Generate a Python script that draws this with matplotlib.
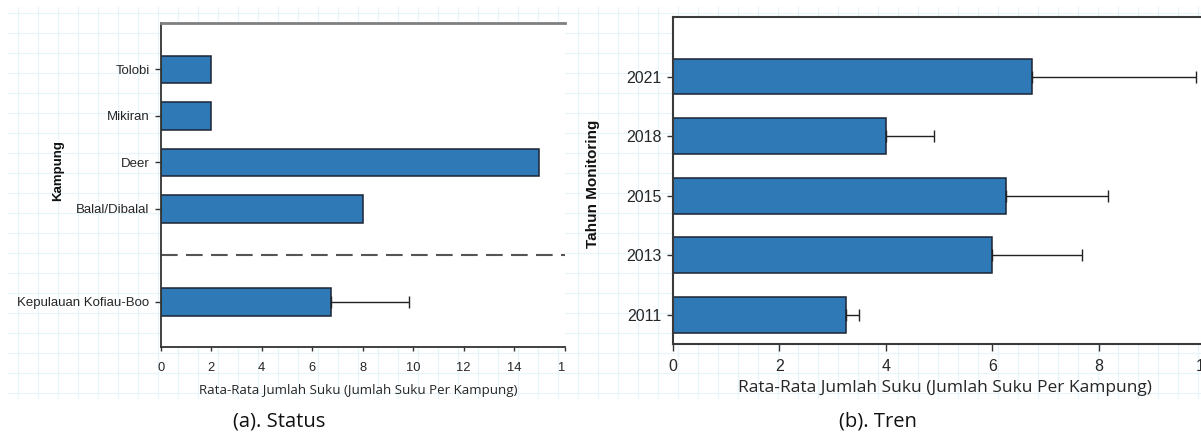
import matplotlib
matplotlib.use("Agg")
import matplotlib.pyplot as plt
import numpy as np
from matplotlib.transforms import Bbox, TransformedBbox

# ---------------- data ----------------
status_labels = ["Kepulauan Kofiau-Boo", "Balal/Dibalal", "Deer", "Mikiran", "Tolobi"]
status_values = [6.75, 8.0, 15.0, 2.0, 2.0]
status_err = [3.1, 0.0, 0.0, 0.0, 0.0]
status_xticks = [0, 2, 4, 6, 8, 10, 12, 14, 16]

trend_years = ["2011", "2013", "2015", "2018", "2021"]
trend_values = [3.25, 6.0, 6.25, 4.0, 6.75]
trend_err = [0.25, 1.68, 1.93, 0.91, 3.09]
trend_xticks = [0, 2, 4, 6, 8, 10]

xlabel_text = "Rata-Rata Jumlah Suku (Jumlah Suku Per Kampung)"
caption_a = "(a). Status"
caption_b = "(b). Tren"

# ---------------- style ----------------
W, H = 1201, 437
BAR = "#2f79b6"
EDGE = "#1c2433"
TXT = "#262626"
GRID = "#e6f5f8"

fig = plt.figure(figsize=(W / 100, H / 100), dpi=100)
fig.patch.set_facecolor("white")

# graph-paper background
bg = fig.add_axes([0, 0, 1, 1], zorder=-10)
bg.set_xlim(0, W)
bg.set_ylim(H, 0)
bg.axis("off")
for gx in np.arange(18, W, 20):
    bg.plot([gx, gx], [7, 398], color=GRID, lw=0.9)
for gy in np.arange(13, 400, 20):
    bg.plot([8, W], [gy, gy], color=GRID, lw=0.9)


def px_axes(x0, x1, y_top, y_bot):
    return [x0 / W, (H - y_bot) / H, (x1 - x0) / W, (y_bot - y_top) / H]


# ---------------- (a) Status ----------------
ax1 = fig.add_axes(px_axes(160.7, 564.7, 23, 347))
ax1.set_facecolor("white")
# positions: first category, then an empty separator slot, then the rest
pos1 = np.array([1] + list(np.arange(3, 3 + len(status_labels) - 1)))
ax1.barh(pos1, status_values, height=0.6, color=BAR, edgecolor=EDGE, linewidth=1.1, zorder=2)
err1 = np.array(status_err)
m1 = err1 > 0
ax1.errorbar(np.array(status_values)[m1], pos1[m1],
             xerr=[np.zeros(m1.sum()), err1[m1]], fmt="none",
             ecolor="#222222", elinewidth=1.0, capsize=4, capthick=1.0, zorder=3)
ax1.axhline(2, color="#555555", lw=1.5, dashes=(8, 4), zorder=1)
ax1.set_xlim(0, 16)
ax1.set_ylim(0.03, 7.0)
ax1.set_yticks(pos1)
ax1.set_yticklabels(status_labels, fontsize=9.5, color=TXT, family="Liberation Sans")
ax1.set_xticks(status_xticks)
ax1.set_xticklabels([str(v) for v in status_xticks], fontsize=9.3, color=TXT, family="Liberation Sans")
ax1.tick_params(axis="y", length=4, width=1, color="#333333", pad=4)
ax1.tick_params(axis="x", length=3, width=1, color="#333333", pad=7.5)
ax1.spines["right"].set_visible(False)
ax1.spines["left"].set_color("#333333")
ax1.spines["bottom"].set_color("#333333")
ax1.spines["left"].set_linewidth(1.3)
ax1.spines["bottom"].set_linewidth(1.3)
ax1.spines["top"].set_color("#7f7f7f")
ax1.spines["top"].set_linewidth(2.0)
ax1.set_xlabel(xlabel_text, fontsize=9.6, color=TXT, family="Open Sans", va="center")
ax1.xaxis.set_label_coords(0.49, -0.133)
ax1.set_ylabel("Kampung", fontsize=9.5, fontweight="bold", color="#111111",
               family="Liberation Sans", va="center")
ax1.yaxis.set_label_coords(-0.254, 0.546)

# ---------------- (b) Tren ----------------
ax2 = fig.add_axes(px_axes(673, 1205, 17, 344))
ax2.set_facecolor("white")
pos2 = np.arange(1, len(trend_years) + 1)
ax2.barh(pos2, trend_values, height=0.6, color=BAR, edgecolor=EDGE, linewidth=1.1, zorder=2)
ax2.errorbar(trend_values, pos2, xerr=[np.zeros(len(trend_err)), trend_err], fmt="none",
             ecolor="#222222", elinewidth=1.0, capsize=4, capthick=1.0, zorder=3)
ax2.set_xlim(0, 10)
ax2.set_ylim(0.51, 6.0)
ax2.set_yticks(pos2)
ax2.set_yticklabels(trend_years, fontsize=11.5, color=TXT, family="Liberation Sans")
ax2.set_xticks(trend_xticks)
ax2.set_xticklabels([str(v) for v in trend_xticks], fontsize=11.5, color=TXT, family="Liberation Sans")
ax2.tick_params(axis="y", length=4.5, width=1, color="#333333", pad=3.5)
ax2.tick_params(axis="x", length=5, width=1, color="#333333", pad=6)
ax2.spines["right"].set_visible(False)
for s in ["left", "bottom", "top"]:
    ax2.spines[s].set_color("#3a3a3a")
    ax2.spines[s].set_linewidth(1.5)
ax2.set_xlabel(xlabel_text, fontsize=12.5, color=TXT, family="Open Sans", va="center")
ax2.xaxis.set_label_coords(0.512, -0.1346)
ax2.set_ylabel("Tahun Monitoring", fontsize=11, fontweight="bold", color="#111111",
               family="Liberation Sans", va="center")
ax2.yaxis.set_label_coords(-0.150, 0.489)

# captions
fig.text(279 / W, (H - 422) / H, caption_a, fontsize=14.5, family="Open Sans",
         ha="center", va="center", color="#111111")
fig.text(878 / W, (H - 422) / H, caption_b, fontsize=14.5, family="Open Sans",
         ha="center", va="center", color="#111111")

# clip tick labels at each panel's right edge (as in the cropped original)
fig.canvas.draw()
clip1 = TransformedBbox(Bbox([[0, 0], [565 / W, 1]]), fig.transFigure)
for lab in ax1.get_xticklabels():
    lab.set_clip_box(clip1)
    lab.set_clip_on(True)

fig.savefig("out.png", dpi=100)
